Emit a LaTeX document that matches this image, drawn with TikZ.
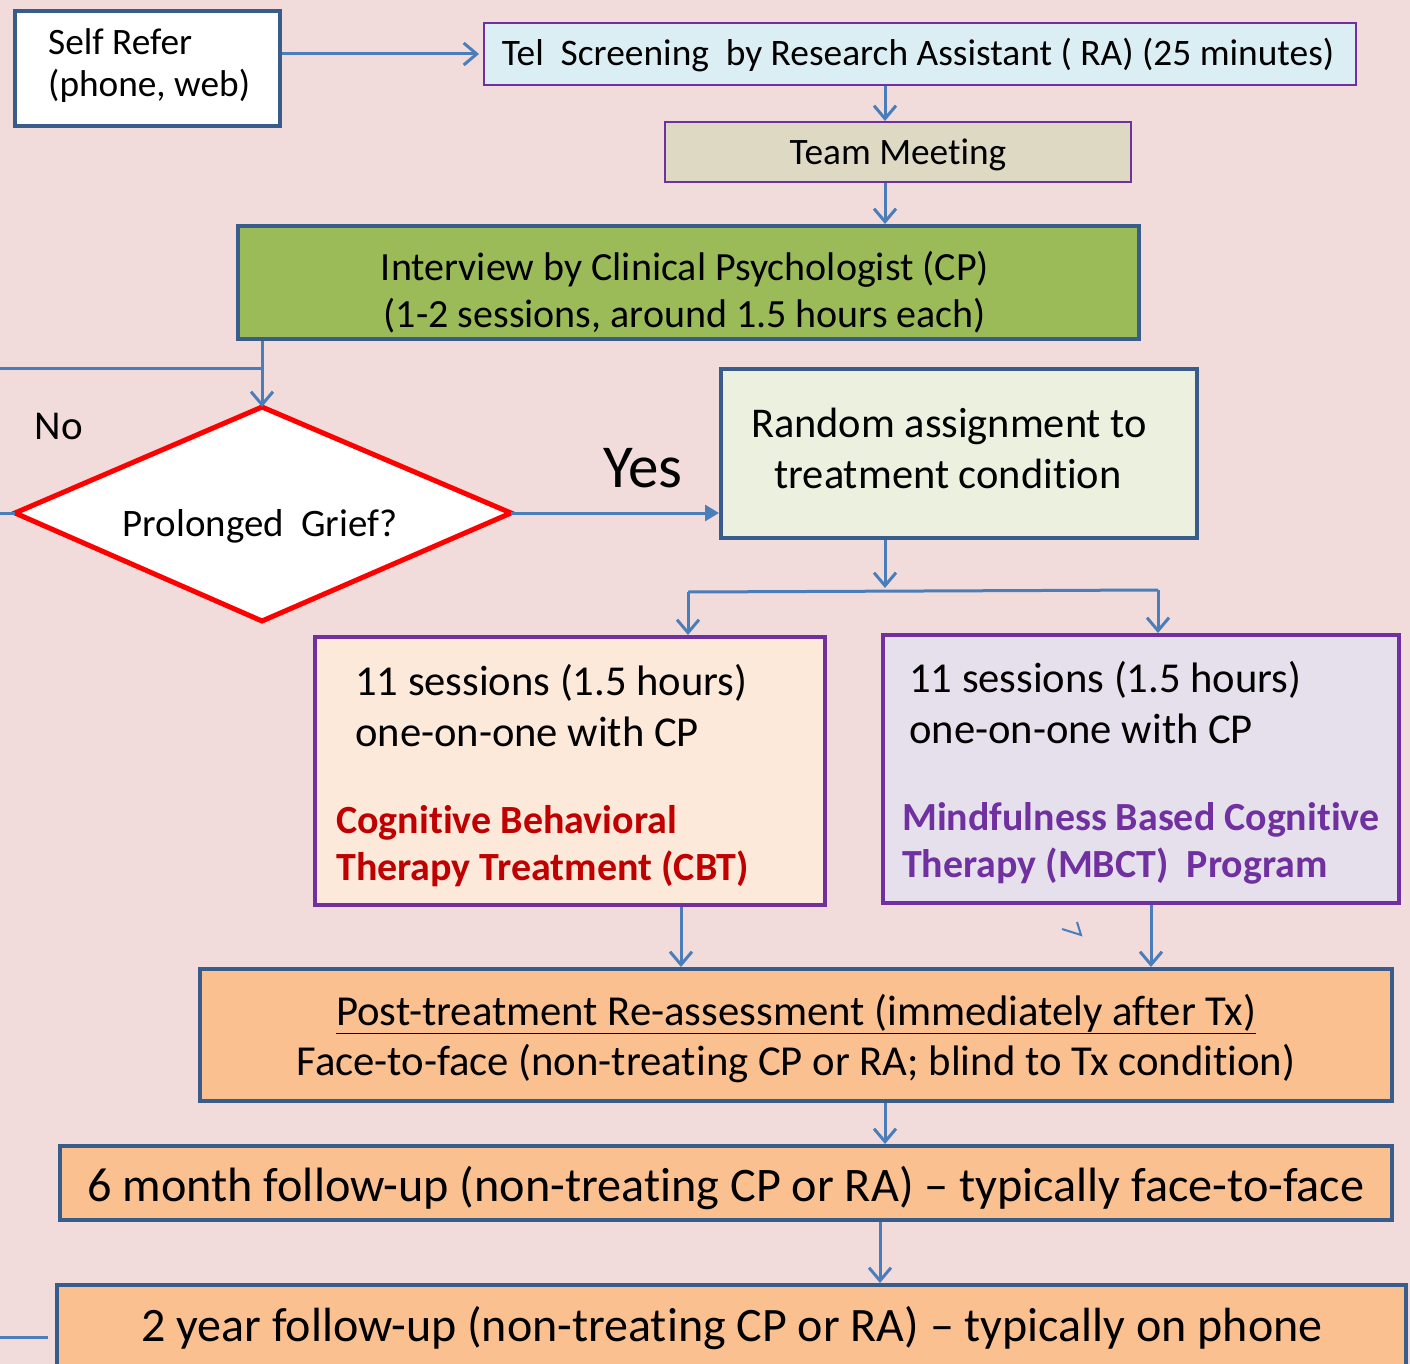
\documentclass[tikz,border=0pt]{standalone}
\usepackage{fontspec}
\setmainfont{Carlito}[Ligatures=NoCommon]
\usetikzlibrary{arrows.meta}
\definecolor{bg}{HTML}{F2DCDB}
\definecolor{dblue}{HTML}{385D8A}
\definecolor{ablue}{HTML}{4A7EBB}
\definecolor{purp}{HTML}{7030A0}
\definecolor{telfill}{HTML}{DAEEF3}
\definecolor{teamfill}{HTML}{DDD9C3}
\definecolor{green}{HTML}{9BBB59}
\definecolor{randfill}{HTML}{EBF1DE}
\definecolor{cbtfill}{HTML}{FDE9D9}
\definecolor{mbctfill}{HTML}{E5E0EC}
\definecolor{orng}{HTML}{FAC090}
\definecolor{dred}{HTML}{C00000}
\tikzset{
  box/.style={rectangle, inner sep=0pt, line width=4pt, draw=dblue},
  thinbox/.style={rectangle, inner sep=0pt, line width=2pt, draw=purp},
  purpbox/.style={rectangle, inner sep=0pt, line width=4pt, draw=purp},
  txt/.style={inner sep=0pt, anchor=base},
  ltxt/.style={inner sep=0pt, anchor=base west},
  conn/.style={draw=ablue, line width=3pt},
  arr/.style={conn, -{Straight Barb[length=13pt, width=22pt, line width=3pt]}},
  tri/.style={conn, -{Triangle[length=14pt, width=16pt]}},
}
\newcommand{\fs}[1]{\fontsize{#1}{#1}\selectfont}
\begin{document}
\begin{tikzpicture}[x=1pt,y=-1pt]
\useasboundingbox (0,0) rectangle (1410,1364);
\fill[bg] (0,0) rectangle (1410,1364);
\clip (0,0) rectangle (1410,1364);

% boxes
\node[box, fill=white, minimum width=265, minimum height=115] (self) at (147.5,68.5) {};
\node[thinbox, fill=telfill, minimum width=872, minimum height=62] (tel) at (920,54) {};
\node[thinbox, fill=teamfill, minimum width=466, minimum height=60] (team) at (898,152) {};
\node[box, fill=green, minimum width=901, minimum height=113] (interview) at (688.5,282.5) {};
\node[box, fill=randfill, minimum width=476, minimum height=169] (random) at (959,453.5) {};
\node[purpbox, fill=cbtfill, minimum width=510, minimum height=268] (cbt) at (570,771) {};
\node[purpbox, fill=mbctfill, minimum width=516, minimum height=268] (mbct) at (1141,769) {};
\node[box, fill=orng, minimum width=1192, minimum height=132] (post) at (796,1035) {};
\node[box, fill=orng, minimum width=1332, minimum height=74] (six) at (726,1183) {};
\node[box, fill=orng, minimum width=1349, minimum height=120] (two) at (731.5,1345) {};

% diamond
\coordinate (dtop) at (262,407);
\coordinate (dleft) at (15,513);
\coordinate (dright) at (511,513);
\coordinate (dbot) at (262,621);
\filldraw[fill=white, draw=red, line width=5pt, line join=miter] (dleft) -- (dtop) -- (dright) -- (dbot) -- cycle;

% texts
\node[ltxt, font=\fs{37.3}] (selfa) at (48,55) {Self Refer};
\node[ltxt, font=\fs{37.3}] (selfb) at (48,97) {(phone, web)};
\node[txt, font=\fs{37.4}] (telt) at (918,66) {Tel\ \ Screening\ \ by Research Assistant ( RA) (25 minutes)};
\node[txt, font=\fs{37.3}] (teamt) at (898,165) {Team Meeting};
\node[txt, font=\fs{40}] (inta) at (685,280) {Interview by Clinical Psychologist (CP)};
\node[txt, font=\fs{40}] (intb) at (685,327) {(1-2 sessions, around 1.5 hours each)};
\node[txt, font=\fs{38.9}] (grief) at (260,536) {Prolonged\ \ Grief?};
\node[txt, font=\fs{41}] (no) at (59,439) {No};
\node[txt, font=\fs{61}] (yes) at (643,487) {Yes};
\node[txt, font=\fs{42.4}] (randa) at (949,437) {Random assignment to};
\node[txt, font=\fs{42.4}] (randb) at (948,488) {treatment condition};
\node[ltxt, font=\fs{42.6}] (cbta) at (355,695) {11 sessions (1.5 hours)};
\node[ltxt, font=\fs{42.6}] (cbtb) at (355,746) {one-on-one with CP};
\node[ltxt, font=\fs{40}\bfseries, text=dred] (cbtc) at (336,833) {Cognitive Behavioral};
\node[ltxt, font=\fs{40}\bfseries, text=dred] (cbtd) at (336,880) {Therapy Treatment (CBT)};
\node[ltxt, font=\fs{42.6}] (mba) at (909,692) {11 sessions (1.5 hours)};
\node[ltxt, font=\fs{42.6}] (mbb) at (909,743) {one-on-one with CP};
\node[ltxt, font=\fs{39.9}\bfseries, text=purp] (mbc) at (902,830) {Mindfulness Based Cognitive};
\node[ltxt, font=\fs{39.9}\bfseries, text=purp] (mbd) at (902,877) {Therapy (MBCT)\ \ Program};
\node[txt, font=\fs{42.7}] (posta) at (796,1025) {\underline{Post-treatment Re-assessment (immediately after Tx)}};
\node[txt, font=\fs{42.7}] (postb) at (796,1075) {Face-to-face (non-treating CP or RA; blind to Tx condition)};
\node[txt, font=\fs{48.2}] (sixt) at (726,1201) {6 month follow-up (non-treating CP or RA) -- typically face-to-face};
\node[txt, font=\fs{48}] (twot) at (732,1341) {2 year follow-up (non-treating CP or RA) -- typically on phone};

% connectors
\coordinate (c1) at ([xshift=-35]tel.south);
\coordinate (c2) at ([xshift=-13]team.south);
\coordinate (split) at (885,588);
\coordinate (sL) at (688,592);
\coordinate (sR) at (1158,590);
\coordinate (c3) at ([xshift=111]cbt.south);
\coordinate (c4) at ([xshift=10]mbct.south);
\coordinate (c5) at ([xshift=89]post.south);
\coordinate (c6) at ([xshift=154]six.south);
\coordinate (la) at (0,368);
\coordinate (lb) at (0,513);
\coordinate (lc) at (0,1337);
\coordinate (ld) at (48,1337);

\draw[arr] (self.east |- tel.west) -- ([xshift=-4]tel.west);
\draw[arr] (c1) -- (c1 |- team.north);
\draw[arr] (c2) -- (c2 |- interview.north);
\draw[arr] (interview.south -| dtop) -- (dtop);
\draw[conn] (la) -- (la -| dtop);
\draw[conn] (lb) -- (dleft);
\draw[tri] (dright) -- (dright -| random.west);
\draw[arr] (random.south -| split) -- (split);
\draw[conn] (sL) -- (sR);
\draw[arr] (sL) -- (sL |- cbt.north);
\draw[arr] (sR) -- (sR |- mbct.north);
\draw[arr] (c3) -- (c3 |- post.north);
\draw[arr] (c4) -- (c4 |- post.north);
\draw[arr] (c5) -- (c5 |- six.north);
\draw[arr] (c6) -- (c6 |- two.north);
\draw[conn] (lc) -- (ld);
% stray mark
\draw[ablue, line width=2pt] (1062,929) -- (1081,935) -- (1077,922);
\end{tikzpicture}
\end{document}
